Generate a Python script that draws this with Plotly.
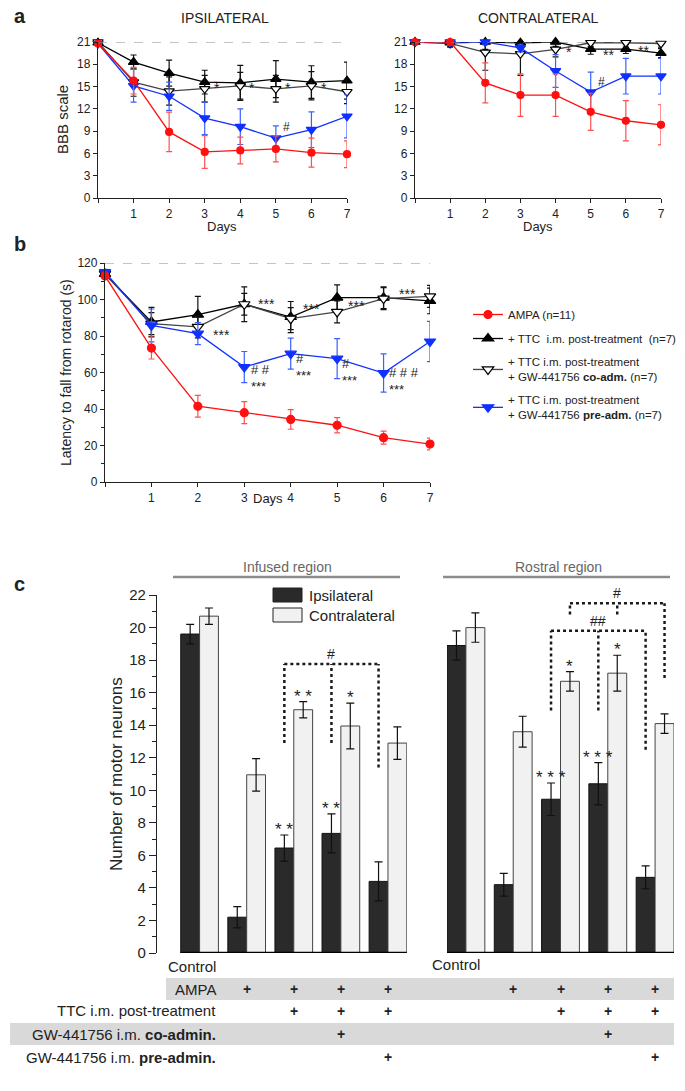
import plotly.graph_objects as go

W, H = 685, 1091
FONT = "Liberation Sans, Arial, sans-serif"
INK = "#222222"

# ---------------- panel a : BBB scale ----------------
days = [0, 1, 2, 3, 4, 5, 6, 7]
day_labels = ["", "1", "2", "3", "4", "5", "6", "7"]

ipsi_ampa = [20.8, 15.8, 8.9, 6.2, 6.4, 6.6, 6.1, 5.9]
ipsi_ampa_err = [0.3, 1.8, 2.65, 2.2, 1.8, 1.75, 1.95, 1.8]
ipsi_ttc = [20.9, 18.3, 16.8, 15.6, 15.5, 16.0, 15.6, 15.8]
ipsi_ttc_err = [0.2, 0.95, 1.75, 1.6, 2.35, 2.5, 2.2, 2.5]
ipsi_co = [21.0, 15.6, 14.4, 14.7, 15.1, 14.7, 15.1, 14.3]
ipsi_co_err = [0.2, 1.9, 1.9, 1.8, 1.8, 1.8, 1.9, 1.6]
ipsi_pre = [20.8, 15.1, 13.7, 10.75, 9.6, 8.05, 9.2, 11.0]
ipsi_pre_err = [0.2, 2.2, 1.9, 2.2, 2.4, 1.65, 2.4, 2.9]

contra_ampa = [21.0, 21.0, 15.5, 13.85, 13.85, 11.6, 10.4, 9.85]
contra_ampa_err = [0.2, 0.3, 2.7, 2.85, 2.85, 2.5, 2.7, 2.7]
contra_ttc = [21.0, 20.9, 21.0, 20.9, 21.0, 20.05, 20.05, 19.5]
contra_ttc_err = [0.2, 0.5, 1.0, 0.8, 0.6, 0.7, 0.6, 0.6]
contra_co = [21.0, 20.8, 19.6, 19.4, 20.0, 20.9, 20.9, 20.8]
contra_co_err = [0.2, 0.5, 2.4, 2.9, 1.0, 0.5, 0.6, 0.5]
contra_pre = [21.0, 21.0, 21.0, 20.2, 17.1, 14.25, 16.4, 16.4]
contra_pre_err = [0.2, 0.5, 0.4, 0.5, 2.2, 2.7, 2.4, 2.4]

# ---------------- panel b : rotarod ----------------
rot_ampa = [112.9, 73.4, 41.5, 38.0, 34.3, 31.1, 24.3, 20.8]
rot_ampa_err = [1.5, 6.0, 6.0, 6.0, 5.4, 4.2, 3.6, 3.2]
rot_ttc = [114.0, 87.7, 91.7, 97.4, 90.4, 101.0, 101.0, 99.2]
rot_ttc_err = [1.5, 8.0, 10.0, 9.5, 8.5, 7.0, 6.0, 7.0]
rot_co = [114.0, 86.8, 85.0, 97.4, 89.5, 93.2, 100.5, 101.7]
rot_co_err = [1.5, 6.0, 6.0, 6.0, 6.0, 6.0, 6.0, 6.0]
rot_pre = [115.0, 85.8, 81.3, 63.0, 70.3, 67.6, 59.7, 77.0]
rot_pre_err = [1.5, 9.0, 6.0, 8.5, 8.5, 11.0, 10.5, 11.0]

# ---------------- panel c : motor neurons ----------------
groups = ["Control", "AMPA", "TTC", "TTC+co", "TTC+pre"]
inf_ipsi = [19.6, 2.2, 6.45, 7.35, 4.4]
inf_ipsi_err = [0.6, 0.65, 0.8, 1.2, 1.2]
inf_contra = [20.7, 10.95, 14.95, 13.95, 12.9]
inf_contra_err = [0.5, 1.0, 0.5, 1.4, 1.0]
ros_ipsi = [18.9, 4.2, 9.45, 10.4, 4.65]
ros_ipsi_err = [0.9, 0.7, 1.0, 1.3, 0.7]
ros_contra = [20.0, 13.6, 16.7, 17.2, 14.1]
ros_contra_err = [0.9, 0.95, 0.6, 1.1, 0.6]
inf_ipsi_sig = ["", "", "**", "**", ""]
inf_contra_sig = ["", "", "**", "*", ""]
ros_ipsi_sig = ["", "", "***", "***", ""]
ros_contra_sig = ["", "", "*", "*", ""]

rows = ["AMPA", "TTC i.m. post-treatment", "GW-441756 i.m. <b>co-admin.</b>",
        "GW-441756 i.m. <b>pre-admin.</b>"]
row_plus = [[0, 1, 1, 1, 1], [0, 0, 1, 1, 1], [0, 0, 0, 1, 0], [0, 0, 0, 0, 1]]


def px(x):
    return x / W


def py(y):
    return 1 - y / H


RED, RED_E = "#ff1010", "#ff5050"
BLUE, BLUE_E = "#1030ff", "#3a60ff"

fig = go.Figure()


def add_series(xa, ya, y, err, style, size, name=None, legend=False, rank=None):
    col, ecol, sym, fill, lcol = style
    if sym == "circle":
        size -= 2
    fig.add_trace(go.Scatter(
        x=days, y=y, xaxis=xa, yaxis=ya, mode="lines+markers",
        line=dict(color=lcol, width=1.3),
        marker=dict(symbol=sym, size=size, color=fill, line=dict(color=col, width=1.2)),
        error_y=dict(type="data", array=err, color=ecol, thickness=1.2, width=3),
        cliponaxis=False, name=name, showlegend=legend,
        legendrank=rank, legendgroup=name))


ST_TTC = ("#000000", "#111111", "triangle-up", "#000000", "#000000")
ST_CO = ("#000000", "#111111", "triangle-down", "#ffffff", "#444444")
ST_PRE = (BLUE, BLUE_E, "triangle-down", BLUE, BLUE)
ST_AMPA = (RED, RED_E, "circle", RED, RED)

for xa, ya, sets in [
    ("x", "y", [(ipsi_ttc, ipsi_ttc_err, ST_TTC), (ipsi_co, ipsi_co_err, ST_CO),
                (ipsi_pre, ipsi_pre_err, ST_PRE), (ipsi_ampa, ipsi_ampa_err, ST_AMPA)]),
    ("x2", "y2", [(contra_ttc, contra_ttc_err, ST_TTC), (contra_co, contra_co_err, ST_CO),
                  (contra_pre, contra_pre_err, ST_PRE), (contra_ampa, contra_ampa_err, ST_AMPA)]),
]:
    for y, e, st in sets:
        add_series(xa, ya, y, e, st, 9)

names = ["AMPA (n=11)", "+ TTC  i.m. post-treatment  (n=7)",
         "+ TTC i.m. post-treatment<br>+ GW-441756 <b>co-adm.</b> (n=7)",
         "+ TTC i.m. post-treatment<br>+ GW-441756 <b>pre-adm.</b> (n=7)"]
add_series("x3", "y3", rot_ttc, rot_ttc_err, ST_TTC, 10, names[1], True, 2)
add_series("x3", "y3", rot_co, rot_co_err, ST_CO, 10, names[2], True, 3)
add_series("x3", "y3", rot_pre, rot_pre_err, ST_PRE, 10, names[3], True, 4)
add_series("x3", "y3", rot_ampa, rot_ampa_err, ST_AMPA, 10, names[0], True, 1)

# bars
for xa, ya, ipsi, ie, contra, ce in [("x4", "y4", inf_ipsi, inf_ipsi_err, inf_contra, inf_contra_err),
                                     ("x5", "y5", ros_ipsi, ros_ipsi_err, ros_contra, ros_contra_err)]:
    fig.add_trace(go.Bar(x=list(range(len(groups))), y=ipsi, xaxis=xa, yaxis=ya,
                         marker=dict(color="#2a2a2a", line=dict(color="#111111", width=1)),
                         error_y=dict(type="data", array=ie, color="#111111", thickness=1.2, width=4),
                         name="Ipsilateral", showlegend=False, offsetgroup="i"))
    fig.add_trace(go.Bar(x=list(range(len(groups))), y=contra, xaxis=xa, yaxis=ya,
                         marker=dict(color="#f1f1f1", line=dict(color="#444444", width=1)),
                         error_y=dict(type="data", array=ce, color="#111111", thickness=1.2, width=4),
                         name="Contralateral", showlegend=False, offsetgroup="c"))

ann = []
shapes = []

tickfont_a = dict(family=FONT, size=12, color=INK)
line_ax = dict(showline=True, linecolor=INK, linewidth=1.3, ticks="outside",
               tickcolor=INK, ticklen=4, tickwidth=1.2, showgrid=False, zeroline=False)

layout = dict(
    width=W, height=H, margin=dict(l=0, r=0, t=0, b=0, autoexpand=False),
    plot_bgcolor="white", paper_bgcolor="white",
    font=dict(family=FONT, color=INK),
    barmode="group", bargap=0.2, bargroupgap=0,
    xaxis=dict(domain=[px(98), px(347)], range=[0, 7], anchor="y", tickvals=days,
               ticktext=day_labels, tickfont=tickfont_a, **line_ax),
    yaxis=dict(domain=[py(198), py(42)], range=[0, 21], anchor="x", dtick=3,
               tickfont=tickfont_a, **line_ax),
    xaxis2=dict(domain=[px(415), px(661)], range=[0, 7], anchor="y2", tickvals=days,
                ticktext=day_labels, tickfont=tickfont_a, **line_ax),
    yaxis2=dict(domain=[py(198), py(42)], range=[0, 21], anchor="x2", dtick=3,
                tickfont=tickfont_a, **line_ax),
    xaxis3=dict(domain=[px(105), px(430)], range=[0, 7], anchor="y3", tickvals=days,
                ticktext=day_labels, tickfont=tickfont_a, **line_ax),
    yaxis3=dict(domain=[py(482), py(263)], range=[0, 120], anchor="x3", dtick=20,
                tickfont=tickfont_a, minor=dict(dtick=10, ticks="outside", ticklen=3,
                                                tickcolor=INK), **line_ax),
    xaxis4=dict(domain=[px(157), px(407)], range=[-0.904, 4.404], anchor="y4",
                showticklabels=False, showgrid=False, zeroline=False, ticks=""),
    yaxis4=dict(domain=[py(953), py(595)], range=[0, 22], anchor="x4", dtick=2,
                tickfont=dict(family=FONT, size=15, color=INK),
                minor=dict(dtick=1, ticks="outside", ticklen=4, tickcolor=INK),
                **{**line_ax, "ticklen": 7}),
    xaxis5=dict(domain=[px(447), px(674)], range=[-0.4, 4.4], anchor="y5",
                showticklabels=False, showgrid=False, zeroline=False, ticks=""),
    yaxis5=dict(domain=[py(953), py(953 - 22.6 * 16.27)], range=[0, 22.6], anchor="x5",
                visible=False),
    legend=dict(x=px(468), y=py(300), xanchor="left", yanchor="top",
                font=dict(family=FONT, size=11.5, color=INK), tracegroupgap=5,
                itemwidth=30, bgcolor="rgba(0,0,0,0)"),
)

# dashed reference lines
for xr, yr, yv in [("x", "y", 21), ("x2", "y2", 21), ("x3", "y3", 120)]:
    shapes.append(dict(type="line", xref=xr, yref=yr, x0=0, x1=7, y0=yv, y1=yv,
                       line=dict(color="#8a8a8a", width=1.2, dash="dash")))

# bar baselines
for xr, yr in [("x4", "y4"), ("x5", "y5")]:
    shapes.append(dict(type="line", xref=xr, yref=yr, x0=-0.4, x1=4.4, y0=0, y1=0,
                       line=dict(color="#000000", width=2.5)))


def text(x, y, s, size=12, xref="paper", yref="paper", xanchor="center", yanchor="middle",
         angle=0, color=INK):
    ann.append(dict(x=x, y=y, text=s, xref=xref, yref=yref, xanchor=xanchor,
                    yanchor=yanchor, showarrow=False, textangle=angle,
                    font=dict(family=FONT, size=size, color=color)))


# panel labels and titles
text(px(12), py(16), "<b>a</b>", 20, xanchor="left")
text(px(12), py(244), "<b>b</b>", 20, xanchor="left")
text(px(12), py(584), "<b>c</b>", 20, xanchor="left")
text(px(225), py(18), "IPSILATERAL", 14)
text(px(538), py(18), "CONTRALATERAL", 14)
text(px(222), py(226), "Days", 13)
text(px(538), py(226), "Days", 13)
text(px(268), py(499), "Days", 13)
text(px(62), py(120), "BBB scale", 15, angle=-90)
text(px(66), py(373), "Latency to fall from rotarod (s)", 14, angle=-90)
text(px(116), py(774), "Number of motor neurons", 17, angle=-90)

# significance marks, panel a
for d, yv, s in [(3.2, 14.8, "*"), (4.2, 14.8, "*"), (5.2, 14.8, "*"), (6.2, 14.8, "*"),
                 (7.2, 14.6, "*")]:
    text(d, yv, s, 14, "x", "y", xanchor="left")
text(5.15, 9.6, "#", 12, "x", "y", xanchor="left")
for d, yv, s in [(4.25, 19.7, "*"), (5.3, 19.2, "**"), (6.3, 19.8, "**"), (7.35, 19.5, "**")]:
    text(d, yv, s, 14, "x2", "y2", xanchor="left")
text(5.15, 15.6, "#", 12, "x2", "y2", xanchor="left")

# significance marks, panel b
for d, yv in [(2.28, 80.6), (3.25, 97.4), (4.22, 94.9), (5.2, 96.2), (6.28, 103.2), (7.25, 99.5)]:
    text(d, yv, "***", 14, "x3", "y3", xanchor="left")
for d, yv, s in [(3.1, 57.0, "# #<br>***"), (4.08, 63.0, "#<br>***"), (5.06, 60.2, "#<br>***"),
                 (6.08, 55.5, "# # #<br>***"), (7.08, 75.0, "#<br>***")]:
    ann.append(dict(x=d, y=yv, text=s, xref="x3", yref="y3", xanchor="left", yanchor="middle",
                    align="left", showarrow=False,
                    font=dict(family=FONT, size=13, color=INK)))

# panel c: region headers
text(px(287), py(567), "Infused region", 14, color="#666666")
text(px(558), py(567), "Rostral region", 14, color="#666666")
for x0, x1 in [(173, 400), (443, 670)]:
    shapes.append(dict(type="line", xref="paper", yref="paper", x0=px(x0), x1=px(x1),
                       y0=py(577), y1=py(577), line=dict(color="#8c8c8c", width=2.5)))

# bar legend
for yy, col, lab in [(595, "#2a2a2a", "Ipsilateral"), (615, "#f1f1f1", "Contralateral")]:
    shapes.append(dict(type="rect", xref="paper", yref="paper", x0=px(273), x1=px(302),
                       y0=py(yy - 7), y1=py(yy + 7), fillcolor=col,
                       line=dict(color="#222222", width=1)))
    text(px(307), py(yy), lab, 15, xanchor="left")

# stars above bars
for xr, yr, vals, errs, sigs, off in [
    ("x4", "y4", inf_ipsi, inf_ipsi_err, inf_ipsi_sig, -0.2),
    ("x4", "y4", inf_contra, inf_contra_err, inf_contra_sig, 0.2),
    ("x5", "y5", ros_ipsi, ros_ipsi_err, ros_ipsi_sig, -0.2),
    ("x5", "y5", ros_contra, ros_contra_err, ros_contra_sig, 0.2),
]:
    for i, s in enumerate(sigs):
        if s:
            ann.append(dict(x=i + off, y=vals[i] + errs[i], text=" ".join(s), xref=xr, yref=yr,
                            xanchor="center", yanchor="bottom", showarrow=False, yshift=-6,
                            font=dict(family=FONT, size=17, color=INK)))

# dotted comparison brackets
dot = dict(color="#1a1a1a", width=2.5, dash="dot")
for xr, yr, segs in [
    ("x4", "y4", [(1.8, 12.9, 1.8, 17.76), (1.8, 17.76, 3.8, 17.76), (2.8, 12.9, 2.8, 17.76),
                  (3.8, 11.4, 3.8, 17.76)]),
    ("x5", "y5", [(1.8, 14.9, 1.8, 19.8), (1.8, 19.8, 3.8, 19.8), (2.8, 14.9, 2.8, 19.8),
                  (3.8, 12.5, 3.8, 19.8),
                  (2.2, 20.8, 2.2, 21.5), (2.2, 21.5, 4.2, 21.5), (3.2, 20.8, 3.2, 21.5),
                  (4.2, 16.9, 4.2, 21.5)]),
]:
    for x0, y0, x1, y1 in segs:
        shapes.append(dict(type="line", xref=xr, yref=yr, x0=x0, y0=y0, x1=x1, y1=y1, line=dot))
text(2.8, 17.76, "#", 14, "x4", "y4", yanchor="bottom")
text(2.8, 19.8, "##", 14, "x5", "y5", yanchor="bottom")
text(3.2, 21.5, "#", 14, "x5", "y5", yanchor="bottom")

# treatment table
text(px(166), py(966), "Control", 15, xanchor="left")
text(px(430), py(964), "Control", 15, xanchor="left")
for yy, x0 in [(989, 166), (1034, 10)]:
    shapes.append(dict(type="rect", xref="paper", yref="paper", x0=px(x0), x1=px(674),
                       y0=py(yy - 11), y1=py(yy + 11), fillcolor="#d9d9d9", line=dict(width=0),
                       layer="below"))
row_y = [989, 1011, 1034, 1057]
for r, lab in enumerate(rows):
    text(px(218), py(row_y[r]), lab, 15, xanchor="right")
    for xr in ["x4", "x5"]:
        for i, flag in enumerate(row_plus[r]):
            if flag:
                text(i, py(row_y[r]), "<b>+</b>", 14, xref=xr)

layout["annotations"] = ann
layout["shapes"] = shapes
fig.update_layout(**layout)
# drop the default page margin so the figure sits at the window origin
fig.write_html("out.html", config={"displayModeBar": False},
               post_script="document.body.style.margin='0';")
